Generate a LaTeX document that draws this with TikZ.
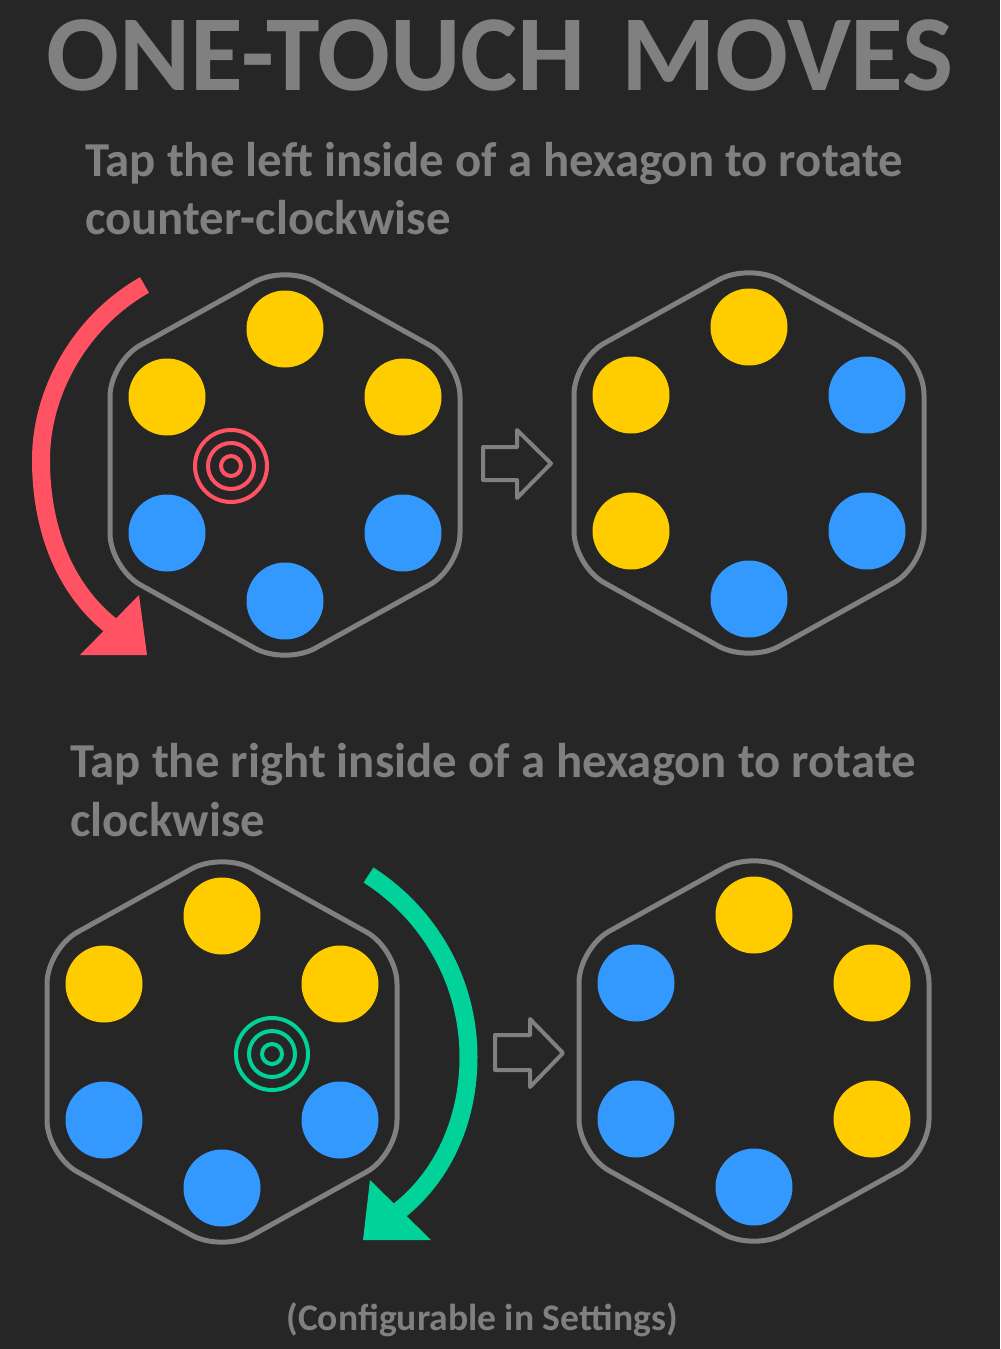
\documentclass[tikz,border=0pt]{standalone}
\usepackage{fontspec}
\setmainfont{Carlito}
\definecolor{bg}{HTML}{262626}
\definecolor{cgray}{HTML}{808080}
\definecolor{cyellow}{HTML}{FFCC00}
\definecolor{cblue}{HTML}{3399FF}
\definecolor{cred}{HTML}{FF5363}
\definecolor{cgreen}{HTML}{00D29A}
\tikzset{
  dot/.style={circle, inner sep=0pt, minimum size=57.75pt},
  Y/.style={dot, fill=cyellow},
  B/.style={dot, fill=cblue},
  hexline/.style={draw=cgray, line width=3.75pt, rounded corners=26pt},
  titletxt/.style={text=cgray, inner sep=0pt, font=\bfseries\fontsize{81}{95}\selectfont},
  subtxt/.style={text=cgray, inner sep=0pt, font=\bfseries\fontsize{36.6}{44}\selectfont},
  notetxt/.style={text=cgray, inner sep=0pt, font=\bfseries\fontsize{28.2}{34}\selectfont},
  bigarrow/.style={line width=13.5pt},
  blockarrow/.style={draw=cgray, line width=3pt, line join=round},
  ring/.style={line width=3pt}
}
\newcommand\hexboard[9]{%
  \begin{scope}[shift={(#2,#3)}]
    \coordinate (#1) at (0,0);
    \draw[hexline] (0,-200) -- (175,-103) -- (175,103) -- (0,200) -- (-175,103) -- (-175,-103) -- cycle;
    \node[#4] (#1-t)  at (0,-136) {};
    \node[#5] (#1-ul) at (-118,-68) {};
    \node[#6] (#1-ur) at (118,-68) {};
    \node[#7] (#1-ll) at (-118,68) {};
    \node[#8] (#1-lr) at (118,68) {};
    \node[#9] (#1-b)  at (0,136) {};
  \end{scope}}
\newcommand\target[4]{%
  \coordinate (#1) at (#2,#3);
  \draw[ring, #4] (#1) circle[radius=36];
  \draw[ring, #4] (#1) circle[radius=23];
  \draw[ring, #4] (#1) circle[radius=10];}
\begin{document}
\begin{tikzpicture}[x=0.75pt, y=-0.75pt]
  \fill[bg] (0,0) rectangle (1000,1349);
  \useasboundingbox (0,0) rectangle (1000,1349);

  \node[titletxt, anchor=base] (title) at (500,90) {ONE-TOUCH\hspace{0.33em}MOVES};

  \node[subtxt, anchor=base west] (s1a) at (85,176) {Tap the left inside of a hexagon to rotate};
  \node[subtxt, anchor=base west] (s1b) at (85,234) {counter-clockwise};

  \hexboard{h1}{285}{465}{Y}{Y}{Y}{B}{B}{B}
  \hexboard{h2}{749}{463}{Y}{Y}{B}{Y}{B}{B}
  \target{t1}{231}{466}{cred}

  \draw[cred, bigarrow] (144.5,285) .. controls (82.7,320) and (41,389) .. (41,460)
        .. controls (41,523) and (61,585) .. (110,625) -- (117,631);
  \fill[cred] (139,595) -- (147,655) -- (80,655) -- cycle;

  \draw[blockarrow] (483,447) -- (517,447) -- (517,430) -- (551,463.5) -- (517,498) -- (517,480) -- (483,480) -- cycle;

  \node[subtxt, anchor=base west] (s2a) at (70,777) {Tap the right inside of a hexagon to rotate};
  \node[subtxt, anchor=base west] (s2b) at (70,836) {clockwise};

  \hexboard{h3}{222}{1052}{Y}{Y}{Y}{B}{B}{B}
  \hexboard{h4}{754}{1051}{Y}{B}{Y}{B}{Y}{B}
  \target{t2}{272}{1054}{cgreen}

  \draw[cgreen, bigarrow] (368.5,875) .. controls (430.7,915) and (468.5,983) .. (468.5,1057)
        .. controls (468.5,1116) and (446,1173) .. (400,1210) -- (393,1216);
  \fill[cgreen] (370,1180) -- (363,1240) -- (431,1240) -- cycle;

  \draw[blockarrow] (495,1035) -- (530,1035) -- (530,1019) -- (563,1053) -- (530,1087) -- (530,1070) -- (495,1070) -- cycle;

  \node[notetxt, anchor=base] (note) at (482,1330) {(Configurable in Settings)};
\end{tikzpicture}
\end{document}
